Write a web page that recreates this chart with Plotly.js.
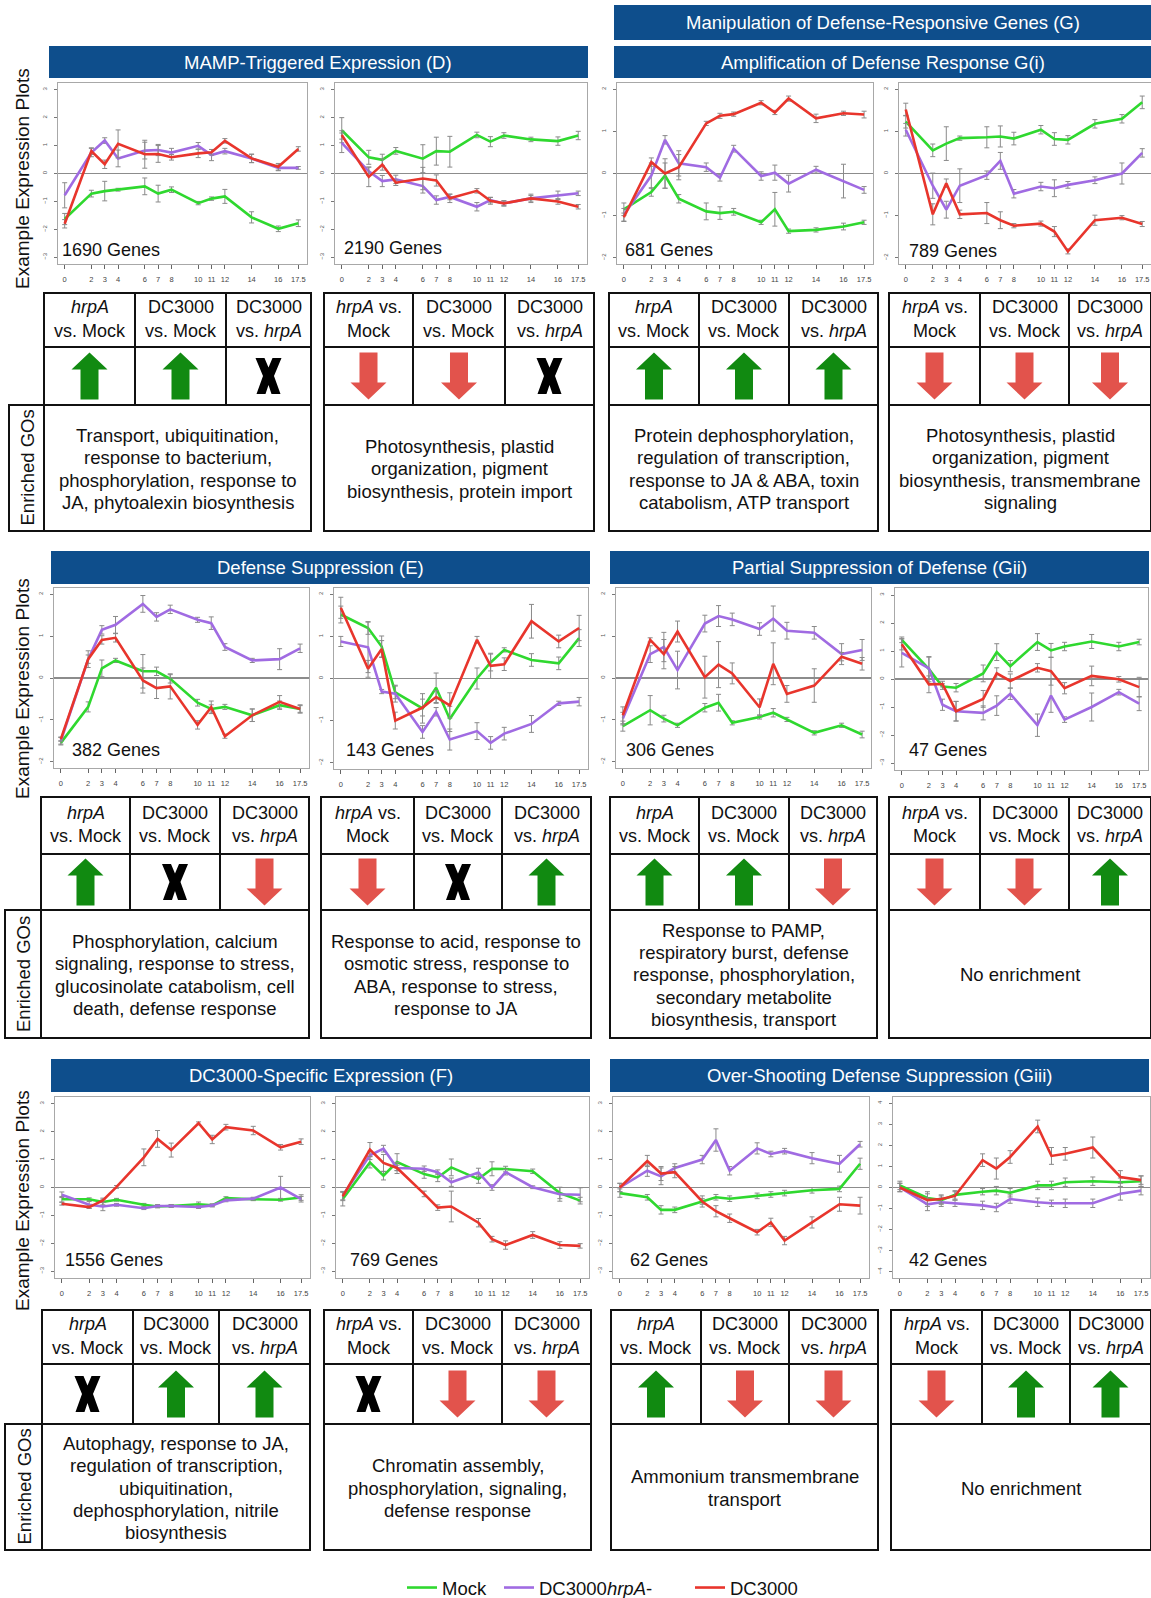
<!DOCTYPE html>
<html><head><meta charset="utf-8">
<script src="https://cdn.plot.ly/plotly-3.0.1.min.js"></script>
<style>body{margin:0;background:#fff}#chart{width:1151px;height:1598px}</style>
</head><body><div id="chart"></div>
<script>
// ---------------- DATA ----------------
const hours = [0,2,3,4,6,7,8,10,11,12,14,16,17.5];
const hourLabels = ['0','2','3','4','6','7','8','10','11','12','14','16','17.5'];
const seriesNames = ['Mock','DC3000<i>hrpA</i>-','DC3000'];

// D: MAMP-Triggered Expression
const D1_mock = [-1.63,-0.72,-0.63,-0.58,-0.46,-0.72,-0.58,-1.06,-0.9,-0.82,-1.57,-1.98,-1.78];
const D1_hrpA = [-0.78,0.75,1.18,0.54,0.82,0.84,0.75,0.99,0.66,0.8,0.54,0.2,0.2];
const D1_dc   = [-1.8,0.8,0.33,1.06,0.69,0.7,0.58,0.72,0.76,1.17,0.54,0.24,0.88];
const D1_mock_err = [0.2,0.12,0.35,0.05,0.3,0.3,0.1,0.06,0.06,0.25,0.2,0.1,0.12];
const D1_hrpA_err = [0.45,0.15,0.1,0.3,0.3,0.2,0.15,0.12,0.2,0.1,0.15,0.1,0.05];
const D1_dc_err   = [0.15,0.12,0.15,0.5,0.5,0.3,0.1,0.15,0.1,0.08,0.15,0.12,0.08];

const D2_mock = [1.55,0.58,0.49,0.81,0.53,0.8,0.78,1.38,1.14,1.36,1.22,1.16,1.36];
const D2_hrpA = [1.1,0.08,-0.27,-0.21,-0.45,-0.95,-0.84,-1.19,-0.95,-1.07,-0.89,-0.78,-0.71];
const D2_dc   = [1.38,-0.12,0.32,-0.33,-0.18,-0.25,-0.89,-0.62,-0.98,-1.07,-0.89,-1.0,-1.19];
const D2_mock_err = [0.45,0.25,0.2,0.12,0.5,0.5,0.55,0.1,0.18,0.1,0.08,0.15,0.15];
const D2_hrpA_err = [0.35,0.15,0.2,0.15,0.25,0.15,0.1,0.15,0.1,0.08,0.1,0.15,0.08];
const D2_dc_err   = [0.15,0.35,0.2,0.1,0.4,0.2,0.15,0.08,0.12,0.1,0.15,0.1,0.08];

// G(i): Amplification of Defense Response
const Gi1_mock = [-0.85,-0.44,-0.05,-0.6,-0.9,-0.94,-0.91,-1.16,-0.85,-1.37,-1.34,-1.26,-1.16];
const Gi1_hrpA = [-0.98,-0.05,0.8,0.24,0.15,-0.1,0.59,-0.06,0.02,-0.24,0.09,-0.18,-0.39];
const Gi1_dc   = [-1.04,0.27,0.0,0.15,1.19,1.37,1.41,1.68,1.45,1.78,1.31,1.43,1.4];
const Gi1_mock_err = [0.15,0.1,0.3,0.1,0.2,0.15,0.08,0.05,0.4,0.05,0.05,0.08,0.05];
const Gi1_hrpA_err = [0.15,0.3,0.1,0.3,0.1,0.08,0.08,0.1,0.18,0.2,0.08,0.4,0.08];
const Gi1_dc_err   = [0.1,0.1,0.35,0.3,0.05,0.06,0.05,0.05,0.05,0.06,0.1,0.05,0.08];

const Gi2_mock = [1.23,0.55,0.71,0.84,0.86,0.88,0.83,1.04,0.82,0.8,1.18,1.3,1.69];
const Gi2_hrpA = [1.04,-0.29,-0.86,-0.29,-0.04,0.3,-0.48,-0.31,-0.35,-0.27,-0.16,0.0,0.49];
const Gi2_dc   = [1.52,-0.97,-0.23,-0.97,-0.94,-1.11,-1.24,-1.19,-1.38,-1.85,-1.11,-1.05,-1.2];
const Gi2_mock_err = [0.15,0.15,0.4,0.05,0.25,0.25,0.15,0.1,0.15,0.1,0.1,0.1,0.15];
const Gi2_hrpA_err = [0.15,0.3,0.2,0.4,0.1,0.2,0.1,0.1,0.2,0.08,0.08,0.25,0.1];
const Gi2_dc_err   = [0.15,0.25,0.1,0.1,0.25,0.2,0.05,0.06,0.12,0.06,0.12,0.05,0.06];

// E: Defense Suppression
const E1_mock = [-1.55,-0.69,0.23,0.42,0.16,0.16,-0.02,-0.59,-0.74,-0.69,-0.89,-0.65,-0.74];
const E1_hrpA = [-1.5,0.45,1.15,1.27,1.77,1.46,1.64,1.39,1.31,0.74,0.42,0.45,0.71];
const E1_dc   = [-1.46,0.45,0.91,0.96,-0.06,-0.24,-0.2,-1.12,-0.7,-1.39,-0.89,-0.57,-0.74];
const E1_mock_err = [0.05,0.12,0.2,0.05,0.4,0.1,0.1,0.08,0.1,0.06,0.15,0.1,0.08];
const E1_hrpA_err = [0.08,0.1,0.1,0.2,0.2,0.1,0.1,0.06,0.15,0.08,0.05,0.25,0.1];
const E1_dc_err   = [0.05,0.2,0.1,0.1,0.3,0.25,0.3,0.1,0.15,0.05,0.15,0.15,0.1];

const E2_mock = [1.52,1.2,0.76,-0.33,-0.71,-0.22,-0.96,0.0,0.38,0.68,0.44,0.36,0.96];
const E2_hrpA = [0.88,0.74,-0.31,-0.36,-1.27,-0.79,-1.45,-1.25,-1.53,-1.31,-1.08,-0.59,-0.55];
const E2_dc   = [1.68,0.23,0.7,-1.0,-0.69,-0.44,-0.64,0.92,0.3,0.34,1.36,0.88,1.2];
const E2_mock_err = [0.2,0.15,0.25,0.15,0.35,0.35,0.3,0.25,0.2,0.05,0.15,0.15,0.2];
const E2_hrpA_err = [0.12,0.6,0.05,0.2,0.15,0.1,0.25,0.2,0.15,0.15,0.2,0.05,0.1];
const E2_dc_err   = [0.25,0.2,0.2,0.2,0.2,0.15,0.3,0.08,0.3,0.15,0.4,0.15,0.3];

// G(ii): Partial Suppression of Defense
const Gii1_mock = [-1.15,-0.77,-0.97,-1.13,-0.71,-0.59,-1.07,-0.93,-0.83,-0.99,-1.31,-1.13,-1.35];
const Gii1_hrpA = [-0.97,0.57,0.74,0.19,1.3,1.48,1.4,1.17,1.42,1.13,1.08,0.57,0.67];
const Gii1_dc   = [-0.89,0.91,0.57,1.11,0.02,0.32,0.11,-0.7,0.34,-0.38,-0.18,0.51,0.34];
const Gii1_mock_err = [0.12,0.35,0.08,0.05,0.1,0.2,0.05,0.05,0.1,0.05,0.05,0.05,0.08];
const Gii1_hrpA_err = [0.15,0.2,0.35,0.45,0.2,0.25,0.15,0.15,0.3,0.2,0.15,0.25,0.25];
const Gii1_dc_err   = [0.2,0.05,0.35,0.25,0.5,0.55,0.25,0.2,0.5,0.2,0.4,0.1,0.15];

const Gii2_mock = [1.4,0.35,-0.27,-0.31,0.2,0.96,0.46,1.32,1.02,1.16,1.34,1.16,1.32];
const Gii2_hrpA = [0.93,0.38,-0.92,-1.15,-1.21,-0.95,-0.53,-1.65,-0.59,-1.45,-1.0,-0.47,-0.88];
const Gii2_dc   = [1.24,-0.19,-0.18,-1.15,-0.71,0.2,-0.07,0.4,0.28,-0.33,0.11,-0.01,-0.29];
const Gii2_mock_err = [0.1,0.45,0.1,0.15,0.3,0.3,0.2,0.3,0.25,0.15,0.25,0.15,0.1];
const Gii2_hrpA_err = [0.5,0.4,0.2,0.35,0.25,0.35,0.2,0.4,0.6,0.1,0.5,0.1,0.25];
const Gii2_dc_err   = [0.2,0.3,0.1,0.35,0.3,0.2,0.25,0.15,0.5,0.2,0.35,0.1,0.35];

// F: DC3000-Specific Expression
const F1_mock = [-0.42,-0.42,-0.52,-0.44,-0.62,-0.68,-0.66,-0.6,-0.64,-0.38,-0.42,-0.44,-0.36];
const F1_hrpA = [-0.26,-0.62,-0.68,-0.62,-0.74,-0.66,-0.66,-0.7,-0.64,-0.46,-0.4,0.0,-0.42];
const F1_dc   = [-0.58,-0.7,-0.46,0.02,1.08,1.74,1.34,2.3,1.72,2.16,2.04,1.44,1.64];
const F1_mock_err = [0.1,0.05,0.1,0.05,0.05,0.05,0.05,0.08,0.05,0.05,0.05,0.05,0.1];
const F1_hrpA_err = [0.1,0.12,0.15,0.05,0.05,0.05,0.05,0.05,0.05,0.05,0.05,0.4,0.1];
const F1_dc_err   = [0.05,0.05,0.08,0.05,0.3,0.3,0.25,0.05,0.15,0.1,0.15,0.1,0.1];

const F2_mock = [-0.41,0.9,0.42,0.91,0.48,0.36,0.72,0.3,0.67,0.66,0.58,-0.2,-0.47];
const F2_hrpA = [-0.29,1.15,1.39,0.7,0.67,0.55,0.19,0.54,0.0,0.55,0.01,-0.24,-0.26];
const F2_dc   = [-0.32,1.36,0.88,0.7,-0.23,-0.72,-0.68,-1.26,-1.85,-2.06,-1.7,-2.06,-2.09];
const F2_mock_err = [0.25,0.2,0.15,0.3,0.15,0.15,0.3,0.15,0.25,0.1,0.08,0.2,0.12];
const F2_hrpA_err = [0.15,0.15,0.12,0.1,0.1,0.08,0.15,0.15,0.1,0.1,0.05,0.25,0.25];
const F2_dc_err   = [0.15,0.25,0.3,0.2,0.1,0.1,0.55,0.15,0.1,0.15,0.12,0.12,0.08];

// G(iii): Over-Shooting Defense Suppression
const Giii1_mock = [-0.2,-0.35,-0.8,-0.8,-0.5,-0.35,-0.4,-0.3,-0.25,-0.2,-0.1,-0.05,0.85];
const Giii1_hrpA = [0.0,0.6,0.4,0.7,1.0,1.7,0.6,1.4,1.2,1.3,1.05,0.85,1.55];
const Giii1_dc   = [0.0,0.95,0.5,0.55,-0.5,-0.85,-1.1,-1.6,-1.25,-1.9,-1.25,-0.6,-0.65];
const Giii1_mock_err = [0.15,0.1,0.15,0.1,0.1,0.1,0.1,0.1,0.1,0.1,0.1,0.1,0.2];
const Giii1_hrpA_err = [0.15,0.2,0.3,0.15,0.15,0.4,0.15,0.2,0.1,0.1,0.2,0.3,0.1];
const Giii1_dc_err   = [0.15,0.2,0.25,0.2,0.2,0.2,0.15,0.1,0.15,0.15,0.2,0.25,0.3];

const Giii2_mock = [0.1,-0.5,-0.6,-0.35,-0.2,-0.15,-0.25,0.1,0.1,0.25,0.3,0.25,0.3];
const Giii2_hrpA = [0.0,-0.8,-0.7,-0.75,-0.85,-0.95,-0.55,-0.7,-0.75,-0.75,-0.75,-0.3,-0.15];
const Giii2_dc   = [0.0,-0.6,-0.55,-0.4,1.3,0.9,1.45,2.9,1.5,1.6,1.9,0.5,0.35];
const Giii2_mock_err = [0.2,0.3,0.2,0.2,0.15,0.2,0.2,0.2,0.2,0.2,0.2,0.2,0.25];
const Giii2_hrpA_err = [0.2,0.3,0.2,0.15,0.2,0.2,0.2,0.2,0.15,0.2,0.2,0.3,0.2];
const Giii2_dc_err   = [0.2,0.3,0.2,0.2,0.3,0.5,0.3,0.3,0.4,0.3,0.5,0.3,0.2];

const geneCounts = ['1690 Genes','2190 Genes','681 Genes','789 Genes','382 Genes','143 Genes',
                    '306 Genes','47 Genes','1556 Genes','769 Genes','62 Genes','42 Genes'];

const headerA = ['<i>hrpA</i><br>vs. Mock','DC3000<br>vs. Mock','DC3000<br>vs. <i>hrpA</i>'];
const headerB = ['<i>hrpA</i> vs.<br>Mock','DC3000<br>vs. Mock','DC3000<br>vs. <i>hrpA</i>'];
const tableHeaders = [headerA,headerB,headerA,headerB,headerA,headerB,headerA,headerB,headerA,headerB,headerA,headerB];
const tableArrows = [
  ['up','up','x'],['down','down','x'],['up','up','up'],['down','down','down'],
  ['up','x','down'],['down','x','up'],['up','up','down'],['down','down','up'],
  ['x','up','up'],['x','down','down'],['up','down','down'],['down','up','up']
];
const enrichedGOs = [
  'Transport, ubiquitination,<br>response to bacterium,<br>phosphorylation, response to<br>JA, phytoalexin biosynthesis',
  'Photosynthesis, plastid<br>organization, pigment<br>biosynthesis, protein import',
  'Protein dephosphorylation,<br>regulation of transcription,<br>response to JA & ABA, toxin<br>catabolism, ATP transport',
  'Photosynthesis, plastid<br>organization, pigment<br>biosynthesis, transmembrane<br>signaling',
  'Phosphorylation, calcium<br>signaling, response to stress,<br>glucosinolate catabolism, cell<br>death, defense response',
  'Response to acid, response to<br>osmotic stress, response to<br>ABA, response to stress,<br>response to JA',
  'Response to PAMP,<br>respiratory burst, defense<br>response, phosphorylation,<br>secondary metabolite<br>biosynthesis, transport',
  'No enrichment',
  'Autophagy, response to JA,<br>regulation of transcription,<br>ubiquitination,<br>dephosphorylation, nitrile<br>biosynthesis',
  'Chromatin assembly,<br>phosphorylation, signaling,<br>defense response',
  'Ammonium transmembrane<br>transport',
  'No enrichment'
];
const barTitles = ['Manipulation of Defense-Responsive Genes (G)','MAMP-Triggered Expression (D)',
  'Amplification of Defense Response G(i)','Defense Suppression (E)','Partial Suppression of Defense (Gii)',
  'DC3000-Specific Expression (F)','Over-Shooting Defense Suppression (Giii)'];

const panelSeries = [
  [D1_mock,D1_hrpA,D1_dc,D1_mock_err,D1_hrpA_err,D1_dc_err],
  [D2_mock,D2_hrpA,D2_dc,D2_mock_err,D2_hrpA_err,D2_dc_err],
  [Gi1_mock,Gi1_hrpA,Gi1_dc,Gi1_mock_err,Gi1_hrpA_err,Gi1_dc_err],
  [Gi2_mock,Gi2_hrpA,Gi2_dc,Gi2_mock_err,Gi2_hrpA_err,Gi2_dc_err],
  [E1_mock,E1_hrpA,E1_dc,E1_mock_err,E1_hrpA_err,E1_dc_err],
  [E2_mock,E2_hrpA,E2_dc,E2_mock_err,E2_hrpA_err,E2_dc_err],
  [Gii1_mock,Gii1_hrpA,Gii1_dc,Gii1_mock_err,Gii1_hrpA_err,Gii1_dc_err],
  [Gii2_mock,Gii2_hrpA,Gii2_dc,Gii2_mock_err,Gii2_hrpA_err,Gii2_dc_err],
  [F1_mock,F1_hrpA,F1_dc,F1_mock_err,F1_hrpA_err,F1_dc_err],
  [F2_mock,F2_hrpA,F2_dc,F2_mock_err,F2_hrpA_err,F2_dc_err],
  [Giii1_mock,Giii1_hrpA,Giii1_dc,Giii1_mock_err,Giii1_hrpA_err,Giii1_dc_err],
  [Giii2_mock,Giii2_hrpA,Giii2_dc,Giii2_mock_err,Giii2_hrpA_err,Giii2_dc_err]
];

// ---------------- LAYOUT GEOMETRY (pixels) ----------------
const W = 1151, H = 1598;
const PX = v => v / W;
const PY = v => 1 - v / H;
const FONT = 'Liberation Sans, Arial, sans-serif';
const colors = ['#2fd82f','#a06be2','#e8352c'];
const legendWidths = [52,146,70];
const upColor = '#118a11', downColor = '#e2534c', barColor = '#0e4e8c';

const plotBoxes = [
  [58,307,83,264],[335,587,83,264],[617,873,83,264],[899,1151,83,264],
  [54,309,588,768],[334,588,588,769],[616,871,588,768],[895,1148,588,770],
  [55,310,1097,1278],[336,589,1097,1278],[613,869,1097,1278],[893,1150,1097,1278]
];
const yLim = [3.24,3.24,2.15,2.15,2.15,2.15,2.15,3.25,3.24,3.24,3.24,4.3];
const geneLabelPos = [[60,250],[342,248],[623,250],[907,251],[70,750],[344,750],[624,750],[907,750],
                      [63,1260],[348,1260],[628,1260],[907,1260]];
const tableCols = [[44,135,226,311],[324,413,505,594],[609,699,789,878],[889,980,1069,1151],
                   [41,130,220,309],[321,414,502,591],[610,699,789,877],[889,980,1069,1151],
                   [42,133,219,310],[324,413,502,591],[611,701,789,878],[891,982,1070,1151]];
const tableRows = [[293,347,405,531],[797,854,910,1038],[1310,1364,1424,1550]];
const goLabelX = [[9,44],[5,41],[5,42]];
const barBoxes = [[614,1151,5,40],[49,588,46,78],[614,1151,46,78],[51,590,551,584],[610,1149,551,584],
                  [51,590,1059,1092],[610,1149,1059,1092]];
const examplePlotsY = [179,689,1201];
const goLineHeight = 22.3;

// ---------------- BUILD ----------------
const traces = [];
const layout = {
  width: W, height: H, margin:{l:0,r:0,t:0,b:0,autoexpand:false},
  paper_bgcolor:'#fff', plot_bgcolor:'#fff',
  font:{family:FONT, color:'#111'},
  showlegend:true,
  legend:{orientation:'h', x:PX(402), xanchor:'left', y:PY(1588), yanchor:'middle',
          font:{family:FONT, size:18.5, color:'#111'}, itemwidth:30, tracegroupgap:0},
  shapes:[], annotations:[]
};

plotBoxes.forEach((b,i)=>{
  const k = i+1;
  const xa = 'xaxis'+(k===1?'':k), ya = 'yaxis'+(k===1?'':k);
  const lim = yLim[i];
  const tv = []; for (let t=-Math.floor(lim); t<=Math.floor(lim); t++) tv.push(t);
  layout[xa] = {domain:[PX(b[0]),PX(b[1])], anchor:'y'+(k===1?'':k), range:[-0.5,18.15],
    tickvals:hours, ticktext:hourLabels, ticks:'outside', ticklen:4, tickcolor:'#666',
    tickfont:{size:7.5, color:'#444', family:FONT}, showgrid:false, zeroline:false,
    showline:true, mirror:true, linecolor:'#a8a8a8', linewidth:1.2, fixedrange:true, ticklabelstandoff:4};
  layout[ya] = {domain:[PY(b[3]),PY(b[2])], anchor:'x'+(k===1?'':k), range:[-lim,lim],
    tickvals:tv, ticks:'outside', ticklen:3, tickcolor:'#777', tickangle:-90,
    tickfont:{size:6, color:'#555', family:FONT}, showgrid:false,
    zeroline:true, zerolinecolor:'#8c8c8c', zerolinewidth:1.5,
    showline:true, mirror:true, linecolor:'#a8a8a8', linewidth:1.2, fixedrange:true, ticklabelstandoff:4};
  const s = panelSeries[i];
  for (let j=0;j<3;j++){
    traces.push({type:'scatter', mode:'lines', x:hours, y:s[j],
      error_y:{type:'data', array:s[j+3], visible:true, color:'#8a8a8a', thickness:1, width:2.5},
      line:{color:colors[j], width:2.6}, name:seriesNames[j], legendgroup:'g'+j, legendwidth:legendWidths[j],
      showlegend:i===0, xaxis:'x'+(k===1?'':k), yaxis:'y'+(k===1?'':k), hoverinfo:'skip'});
  }
  layout.annotations.push({xref:'paper', yref:'paper', x:PX(geneLabelPos[i][0]), y:PY(geneLabelPos[i][1]),
    xanchor:'left', yanchor:'middle', text:geneCounts[i], showarrow:false,
    font:{family:FONT, size:18, color:'#111'}});
});

// header bars
barBoxes.forEach((b,i)=>{
  layout.shapes.push({type:'rect', xref:'paper', yref:'paper', x0:PX(b[0]), x1:PX(b[1]), y0:PY(b[3]), y1:PY(b[2]),
    fillcolor:barColor, line:{width:0}, layer:'below'});
  layout.annotations.push({xref:'paper', yref:'paper', x:PX((b[0]+b[1])/2), y:PY((b[2]+b[3])/2),
    text:barTitles[i], showarrow:false, xanchor:'center', yanchor:'middle',
    font:{family:FONT, size:18.5, color:'#fff'}});
});

// "Example Expression Plots" labels
examplePlotsY.forEach(yy=>{
  layout.annotations.push({xref:'paper', yref:'paper', x:PX(22), y:PY(yy), textangle:-90,
    text:'Example Expression Plots', showarrow:false, xanchor:'center', yanchor:'middle',
    font:{family:FONT, size:19, color:'#111'}});
});

function rect(x0,x1,y0,y1){
  layout.shapes.push({type:'rect', xref:'paper', yref:'paper', x0:PX(x0), x1:PX(x1), y0:PY(y1), y1:PY(y0),
    line:{color:'#111', width:2}, fillcolor:'rgba(0,0,0,0)'});
}
function pathPx(pts, color){
  const d = pts.map((p,idx)=>(idx? 'L':'M')+PX(p[0]).toFixed(5)+','+PY(p[1]).toFixed(5)).join(' ')+' Z';
  layout.shapes.push({type:'path', xref:'paper', yref:'paper', path:d, fillcolor:color, line:{width:0}});
}
function arrow(cx,cy,dir){
  const hh=17, hw=18, sw=9, half=23.5;
  if (dir==='up'){
    pathPx([[cx,cy-half],[cx+hw,cy-half+hh],[cx+sw,cy-half+hh],[cx+sw,cy+half],[cx-sw,cy+half],[cx-sw,cy-half+hh],[cx-hw,cy-half+hh]], upColor);
  } else if (dir==='down'){
    pathPx([[cx,cy+half],[cx+hw,cy+half-hh],[cx+sw,cy+half-hh],[cx+sw,cy-half],[cx-sw,cy-half],[cx-sw,cy+half-hh],[cx-hw,cy+half-hh]], downColor);
  } else {
    // bold black X
    pathPx([[cx-13,cy-18],[cx-4,cy-18],[cx,cy-8.5],[cx+4,cy-18],[cx+13,cy-18],[cx+5.5,cy],[cx+12,cy+18],[cx+3,cy+18],[cx,cy+9],[cx-3,cy+18],[cx-12,cy+18],[cx-5.5,cy]], '#000');
  }
}
function multiline(text, cx, cy, size, lh){
  const lines = text.split('<br>');
  const n = lines.length;
  lines.forEach((ln,idx)=>{
    layout.annotations.push({xref:'paper', yref:'paper', x:PX(cx), y:PY(cy + (idx-(n-1)/2)*lh),
      text:ln, showarrow:false, xanchor:'center', yanchor:'middle',
      font:{family:FONT, size:size, color:'#111'}});
  });
}

tableCols.forEach((c,i)=>{
  const r = tableRows[Math.floor(i/4)];
  for (let j=0;j<3;j++){
    rect(c[j],c[j+1],r[0],r[1]);
    rect(c[j],c[j+1],r[1],r[2]);
    multiline(tableHeaders[i][j], (c[j]+c[j+1])/2, (r[0]+r[1])/2 - 1, 18, 23.2);
    arrow((c[j]+c[j+1])/2, (r[1]+r[2])/2, tableArrows[i][j]);
  }
  rect(c[0],c[3],r[2],r[3]);
  multiline(enrichedGOs[i], (c[0]+c[3])/2, (r[2]+r[3])/2 + 1, 18.5, goLineHeight);
  if (i%4===0){
    const g = goLabelX[i/4];
    rect(g[0],g[1],r[2],r[3]);
    layout.annotations.push({xref:'paper', yref:'paper', x:PX((g[0]+g[1])/2), y:PY((r[2]+r[3])/2),
      text:'Enriched GOs', textangle:-90, showarrow:false, xanchor:'center', yanchor:'middle',
      font:{family:FONT, size:18.5, color:'#111'}});
  }
});

Plotly.newPlot('chart', traces, layout, {staticPlot:true, displayModeBar:false});
</script>
</body></html>
